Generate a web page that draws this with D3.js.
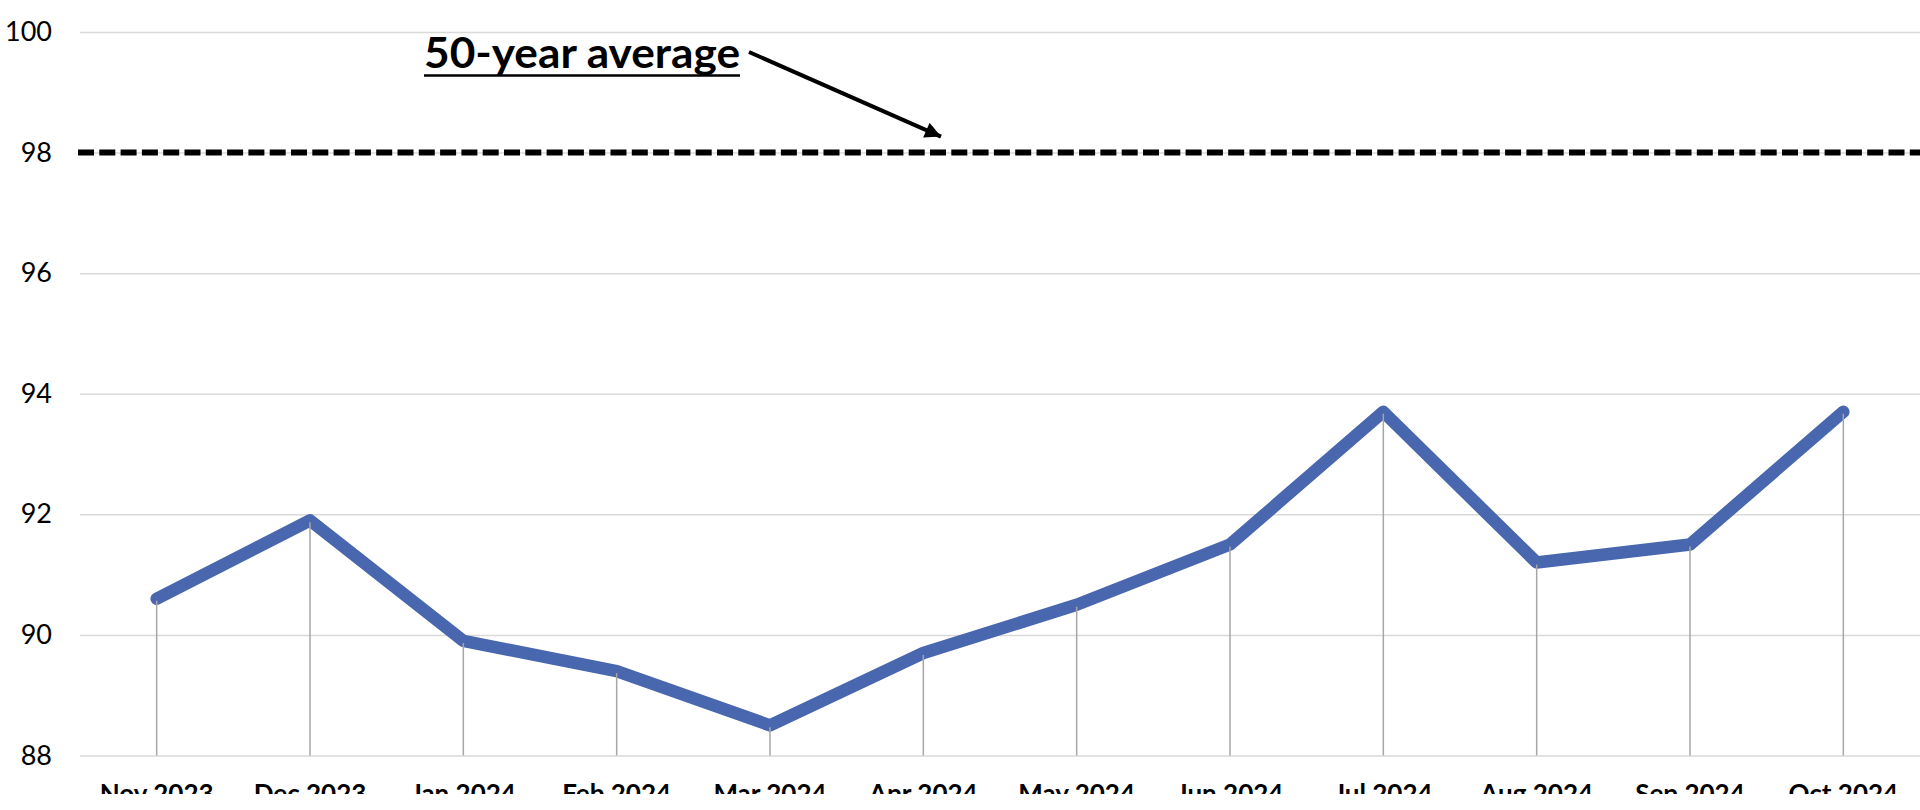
<!DOCTYPE html>
<html>
<head>
<meta charset="utf-8">
<script src="https://cdn.jsdelivr.net/npm/d3@7"></script>
<style>
  html, body { margin: 0; padding: 0; background: #fff; }
  svg { display: block; }
</style>
</head>
<body>
<div id="chart"></div>
<script>

// data
var months = ["Nov 2023", "Dec 2023", "Jan 2024", "Feb 2024", "Mar 2024", "Apr 2024",
              "May 2024", "Jun 2024", "Jul 2024", "Aug 2024", "Sep 2024", "Oct 2024"];
var values = [90.6, 91.9, 89.9, 89.4, 88.5, 89.7, 90.5, 91.5, 93.7, 91.2, 91.5, 93.7];
var yTicks = [88, 90, 92, 94, 96, 98, 100];
var avgValue = 98;
var avgLabel = "50-year average";

var W = 1920, H = 810;
var plotLeft = 80, plotRight = 1920, plotTop = 32, plotBottom = 755.5;

var svg = d3.select("#chart")
  .append("svg")
    .attr("width", W)
    .attr("height", H);

var x = d3.scaleBand()
  .domain(months)
  .range([plotLeft, plotRight]);

var y = d3.scaleLinear()
  .domain([88, 100])
  .range([plotBottom, plotTop]);

function cx(d) { return x(d) + x.bandwidth() / 2; }

// gridlines + y labels
var yAxis = svg.append("g")
  .attr("transform", "translate(" + plotLeft + ",0)")
  .call(d3.axisLeft(y).tickValues(yTicks).tickSize(-(plotRight - plotLeft)).tickPadding(28));

yAxis.select(".domain").remove();
yAxis.selectAll("line")
  .attr("stroke", "#d9d9d9")
  .attr("stroke-width", 1.5);
yAxis.selectAll("text")
  .style("font-family", "Lato, 'Open Sans', sans-serif")
  .style("font-size", "27px")
  .attr("fill", "#000");

// 50-year average dashed line
svg.append("line")
  .attr("x1", plotLeft - 2)
  .attr("x2", plotRight)
  .attr("y1", y(avgValue))
  .attr("y2", y(avgValue))
  .attr("stroke", "#000")
  .attr("stroke-width", 6)
  .attr("stroke-dasharray", "16,5.3");

// the series line
var line = d3.line()
  .x(function(d, i) { return cx(months[i]); })
  .y(function(d) { return y(d); });

svg.append("path")
  .datum(values)
  .attr("d", line)
  .attr("fill", "none")
  .attr("stroke", "#4967ae")
  .attr("stroke-width", 12.5)
  .attr("stroke-linejoin", "round")
  .attr("stroke-linecap", "round");

// drop lines (drawn over the series, like in the original)
svg.append("g")
  .selectAll("line")
  .data(values)
  .enter()
  .append("line")
    .attr("x1", function(d, i) { return cx(months[i]); })
    .attr("x2", function(d, i) { return cx(months[i]); })
    .attr("y1", function(d) { return y(d) + 2; })
    .attr("y2", y(88))
    .attr("stroke", "#a6a6a6")
    .attr("stroke-width", 1.5);

// x labels, cut at the bottom like the source image
var defs = svg.append("defs");

defs.append("clipPath")
    .attr("id", "cut")
  .append("rect")
    .attr("x", 0)
    .attr("y", 0)
    .attr("width", W)
    .attr("height", 794);

svg.append("g")
  .attr("clip-path", "url(#cut)")
  .selectAll("text")
  .data(months)
  .enter()
  .append("text")
    .attr("x", function(d) { return cx(d); })
    .attr("y", 803)
    .attr("text-anchor", "middle")
    .style("font-family", "Lato, 'Open Sans', sans-serif")
    .style("font-size", "26px")
    .style("font-weight", "bold")
    .attr("fill", "#000")
    .text(function(d) { return d; });

// annotation
defs.append("marker")
    .attr("id", "head")
    .attr("markerUnits", "userSpaceOnUse")
    .attr("viewBox", "0 0 10 10")
    .attr("refX", 10)
    .attr("refY", 5)
    .attr("markerWidth", 18)
    .attr("markerHeight", 16)
    .attr("orient", "auto")
  .append("path")
    .attr("d", "M0,0L10,5L0,10Z")
    .attr("fill", "#000");

svg.append("text")
  .attr("x", 424)
  .attr("y", 68)
  .attr("textLength", 316)
  .attr("lengthAdjust", "spacingAndGlyphs")
  .style("font-family", "Lato, 'Open Sans', sans-serif")
  .style("font-size", "42px")
  .style("font-weight", "bold")
  .attr("fill", "#000")
  .text(avgLabel);

svg.append("line")
  .attr("x1", 424)
  .attr("x2", 740)
  .attr("y1", 75.5)
  .attr("y2", 75.5)
  .attr("stroke", "#000")
  .attr("stroke-width", 2.5);

svg.append("line")
  .attr("x1", 749)
  .attr("y1", 52)
  .attr("x2", 941)
  .attr("y2", y(avgValue) - 16)
  .attr("stroke", "#000")
  .attr("stroke-width", 4)
  .attr("marker-end", "url(#head)");

</script>
</body>
</html>
